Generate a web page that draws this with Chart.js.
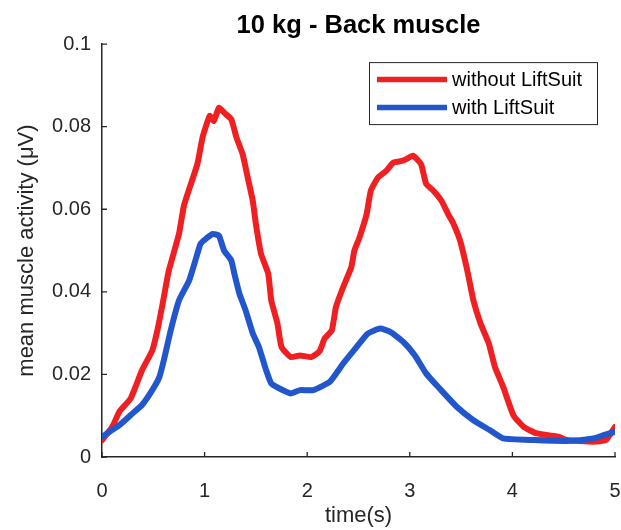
<!DOCTYPE html>
<html>
<head>
<meta charset="utf-8">
<title>10 kg - Back muscle</title>
<script src="https://cdn.jsdelivr.net/npm/chart.js@4.4.0/dist/chart.umd.min.js"></script>
<style>
  html, body { margin: 0; padding: 0; background: #fff; }
  #chart { display: block; }
</style>
</head>
<body>
<canvas id="chart" width="621" height="530"></canvas>
<script>
// time (s) and mean muscle activity (µV)
const timeWithout = [0, 0.1, 0.17, 0.28, 0.39, 0.49, 0.54, 0.59, 0.65, 0.75, 0.8, 0.93, 0.98, 1.05, 1.09, 1.14, 1.19, 1.26, 1.31, 1.37, 1.42, 1.47, 1.5, 1.55, 1.62, 1.65, 1.71, 1.75, 1.84, 1.93, 2.04, 2.12, 2.17, 2.24, 2.28, 2.35, 2.43, 2.46, 2.51, 2.58, 2.62, 2.69, 2.77, 2.84, 2.92, 2.97, 3.03, 3.11, 3.16, 3.23, 3.31, 3.38, 3.42, 3.49, 3.56, 3.62, 3.69, 3.77, 3.83, 3.91, 4.01, 4.11, 4.24, 4.45, 4.53, 4.79, 4.91, 5.0];
const withoutLiftSuit = [0.0041, 0.0073, 0.011, 0.0142, 0.021, 0.0258, 0.0307, 0.037, 0.045, 0.054, 0.061, 0.071, 0.0774, 0.0826, 0.0814, 0.0846, 0.0834, 0.0818, 0.0774, 0.0734, 0.0677, 0.062, 0.0564, 0.0492, 0.0444, 0.0379, 0.0323, 0.0266, 0.0242, 0.0246, 0.0242, 0.0256, 0.0287, 0.0307, 0.0363, 0.0411, 0.046, 0.05, 0.0532, 0.0589, 0.0645, 0.0677, 0.0693, 0.0713, 0.0717, 0.0722, 0.073, 0.0709, 0.0661, 0.0645, 0.062, 0.0585, 0.0568, 0.0524, 0.0452, 0.0379, 0.0323, 0.0275, 0.0218, 0.017, 0.0101, 0.0073, 0.0057, 0.0049, 0.0041, 0.0037, 0.0041, 0.0073];

const timeWith = [0, 0.17, 0.3, 0.39, 0.49, 0.56, 0.61, 0.67, 0.75, 0.85, 0.92, 0.96, 1.01, 1.08, 1.14, 1.19, 1.26, 1.29, 1.34, 1.4, 1.47, 1.53, 1.6, 1.65, 1.73, 1.84, 1.93, 2.06, 2.22, 2.35, 2.48, 2.59, 2.71, 2.81, 2.94, 3.05, 3.16, 3.29, 3.46, 3.62, 3.78, 3.91, 4.21, 4.53, 4.79, 4.89, 5.0];
const withLiftSuit = [0.0049, 0.0077, 0.0106, 0.0126, 0.0162, 0.0194, 0.0242, 0.0307, 0.0379, 0.0428, 0.0484, 0.0516, 0.0528, 0.054, 0.0536, 0.05, 0.0476, 0.0444, 0.0395, 0.0355, 0.0299, 0.0266, 0.021, 0.0178, 0.0166, 0.0154, 0.0162, 0.0162, 0.0182, 0.0226, 0.0266, 0.0299, 0.0311, 0.0303, 0.0278, 0.0246, 0.0202, 0.0166, 0.0121, 0.0089, 0.0065, 0.0045, 0.0041, 0.0039, 0.0045, 0.0053, 0.0061];

const seriesLabels = ['without LiftSuit', 'with LiftSuit'];
const xTicks = [0, 1, 2, 3, 4, 5];
const yTicks = [0, 0.02, 0.04, 0.06, 0.08, 0.1];

const RED = 'rgb(240, 32, 34)';
const BLUE = 'rgb(34, 86, 204)';
const AXIS = '#262626';
const FONT = "'Liberation Sans', Arial, Helvetica, sans-serif";

function toPoints(xs, ys) {
    return xs.map((x, i) => ({ x: x, y: ys[i] }));
}

// MATLAB style: ticks point into the plot
const inwardTicks = {
    id: 'inwardTicks',
    afterDraw(chart) {
        const { ctx, chartArea, scales } = chart;
        ctx.save();
        ctx.strokeStyle = AXIS;
        ctx.lineWidth = 1.3;
        ctx.beginPath();
        xTicks.forEach(v => {
            const px = scales.x.getPixelForValue(v);
            ctx.moveTo(px, chartArea.bottom);
            ctx.lineTo(px, chartArea.bottom - 5);
        });
        yTicks.forEach(v => {
            const py = scales.y.getPixelForValue(v);
            ctx.moveTo(chartArea.left, py);
            ctx.lineTo(chartArea.left + 5, py);
        });
        ctx.stroke();
        ctx.restore();
    }
};

// boxed legend inside the upper right of the axes
const boxLegend = {
    id: 'boxLegend',
    afterDraw(chart) {
        const { ctx, chartArea } = chart;
        const w = 228, h = 62;
        const left = chartArea.right - 18 - w;
        const top = chartArea.top + 18;
        ctx.save();
        ctx.fillStyle = '#fff';
        ctx.fillRect(left, top, w, h);
        ctx.strokeStyle = AXIS;
        ctx.lineWidth = 1;
        ctx.strokeRect(left + 0.5, top + 0.5, w, h);
        ctx.font = '20px ' + FONT;
        ctx.textBaseline = 'middle';
        ctx.textAlign = 'left';
        chart.data.datasets.forEach((ds, i) => {
            const row = top + 17.5 + i * 28;
            ctx.strokeStyle = ds.borderColor;
            ctx.lineWidth = 5.5;
            ctx.beginPath();
            ctx.moveTo(left + 8, row);
            ctx.lineTo(left + 78, row);
            ctx.stroke();
            ctx.fillStyle = '#000';
            ctx.fillText(ds.label, left + 83, row + 1);
        });
        ctx.restore();
    }
};

new Chart(document.getElementById('chart'), {
    type: 'line',
    data: {
        datasets: [
            {
                label: seriesLabels[0],
                data: toPoints(timeWithout, withoutLiftSuit),
                borderColor: RED,
                borderWidth: 6,
                pointRadius: 0,
                tension: 0.15,
                borderJoinStyle: 'round',
                borderCapStyle: 'round',
                order: 1
            },
            {
                label: seriesLabels[1],
                data: toPoints(timeWith, withLiftSuit),
                borderColor: BLUE,
                borderWidth: 6,
                pointRadius: 0,
                tension: 0.15,
                borderJoinStyle: 'round',
                borderCapStyle: 'round',
                order: 0
            }
        ]
    },
    options: {
        responsive: false,
        animation: false,
        layout: { padding: { left: 0, right: 0, top: 0, bottom: 0 } },
        plugins: {
            legend: { display: false },
            tooltip: { enabled: false },
            title: {
                display: true,
                fullSize: false,
                text: '10 kg - Back muscle',
                color: '#000',
                font: { family: FONT, size: 25.5, weight: 'bold', lineHeight: 1.2 },
                padding: { top: 11, bottom: 2.5 }
            }
        },
        scales: {
            x: {
                type: 'linear',
                min: 0,
                max: 5,
                afterBuildTicks: scale => { scale.ticks = xTicks.map(v => ({ value: v })); },
                afterFit: scale => {
                    scale.height = 73;
                    scale.paddingLeft = 0;
                    scale.paddingRight = 6;
                },
                grid: { display: false, drawTicks: false },
                border: { display: true, color: AXIS, width: 1.5 },
                ticks: {
                    color: AXIS,
                    padding: 22,
                    maxRotation: 0,
                    font: { family: FONT, size: 20 }
                },
                title: {
                    display: true,
                    text: 'time(s)',
                    color: AXIS,
                    font: { family: FONT, size: 22 },
                    padding: { top: 0, bottom: 1 }
                }
            },
            y: {
                type: 'linear',
                min: 0,
                max: 0.1,
                afterBuildTicks: scale => { scale.ticks = yTicks.map(v => ({ value: v })); },
                afterFit: scale => { scale.width = 102; },
                grid: { display: false, drawTicks: false },
                border: { display: true, color: AXIS, width: 1.5 },
                ticks: {
                    color: AXIS,
                    padding: 11,
                    font: { family: FONT, size: 20 },
                    callback: v => String(Number(v.toFixed(2)))
                },
                title: {
                    display: true,
                    text: 'mean muscle activity (μV)',
                    color: AXIS,
                    font: { family: FONT, size: 22 },
                    padding: { top: 14, bottom: 0 }
                }
            }
        }
    },
    plugins: [inwardTicks, boxLegend]
});
</script>
</body>
</html>
